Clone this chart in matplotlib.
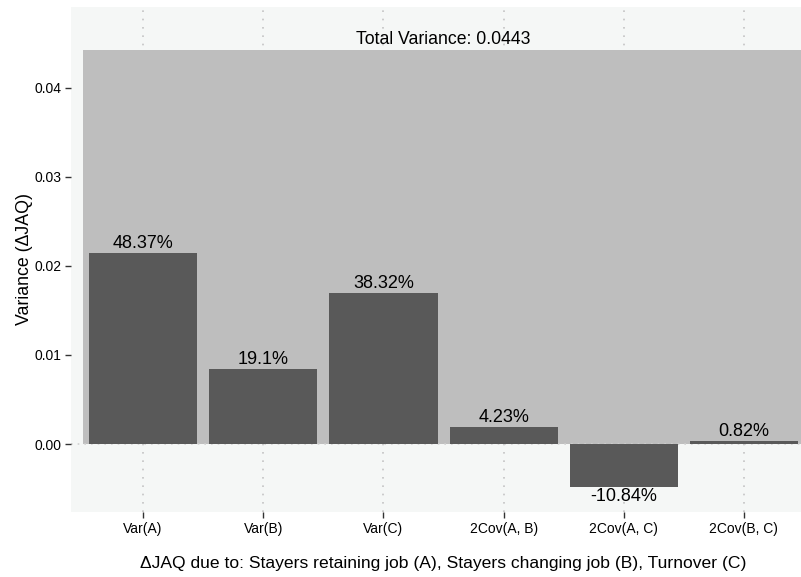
import matplotlib
matplotlib.use("Agg")
import matplotlib.pyplot as plt
import numpy as np

plt.rcParams['font.family'] = ['Liberation Sans', 'DejaVu Sans']

categories = ['Var(A)', 'Var(B)', 'Var(C)', '2Cov(A, B)', '2Cov(A, C)', '2Cov(B, C)']
variance = [0.02143, 0.00846, 0.01698, 0.00187, -0.00480, 0.00036]
pct_labels = ['48.37%', '19.1%', '38.32%', '4.23%', '-10.84%', '0.82%']
total_var = 0.0443

W, H = 801, 577
fig = plt.figure(figsize=(W / 100, H / 100), dpi=100)
ax = fig.add_axes([71 / W, 1 - 512 / H, (W - 71) / W, (512 - 7) / H])
ax.set_facecolor('#f5f7f6')

x = np.arange(1, len(categories) + 1)

# vertical dotted grid at categories
for xi in x:
    ax.axvline(xi, color='#c4c4c4', linestyle=(0, (1, 4)), linewidth=1.2, zorder=0)

# total variance box
ax.bar(3.5, total_var, width=6.0, color='#bebebe', zorder=1)
ax.text(3.5, total_var + 0.0002, 'Total Variance: 0.0443', ha='center', va='bottom', fontsize=12.7)

ax.axhline(0, color='#d0d0d0', linestyle=(0, (1, 3)), linewidth=1.2, zorder=1.5)

ax.bar(x, variance, width=0.9, color='#595959', zorder=2)
for xi, v, lab in zip(x, variance, pct_labels):
    if v >= 0:
        ax.text(xi, v + 0.0001, lab, ha='center', va='bottom', fontsize=13)
    else:
        ax.text(xi, v - 0.0001, lab, ha='center', va='top', fontsize=13)

ax.set_xlim(0.4, 1 + (W - 144) / 120)
ax.set_ylim(-0.00764, 0.0491)
ax.set_xticks(x)
ax.set_xticklabels(categories, fontsize=10)
ax.set_yticks([0.0, 0.01, 0.02, 0.03, 0.04])
ax.set_yticklabels(['0.00', '0.01', '0.02', '0.03', '0.04'], fontsize=10)
ax.tick_params(length=4, width=1, color='#333333', pad=3)
for s in ax.spines.values():
    s.set_visible(False)

ax.set_xlabel('ΔJAQ due to: Stayers retaining job (A), Stayers changing job (B), Turnover (C)',
              fontsize=12.6)
ax.xaxis.set_label_coords((443 - 71) / (W - 71), -0.087)
ax.set_ylabel('Variance (ΔJAQ)', fontsize=12.8, labelpad=1)

fig.savefig('out.png', dpi=100)
